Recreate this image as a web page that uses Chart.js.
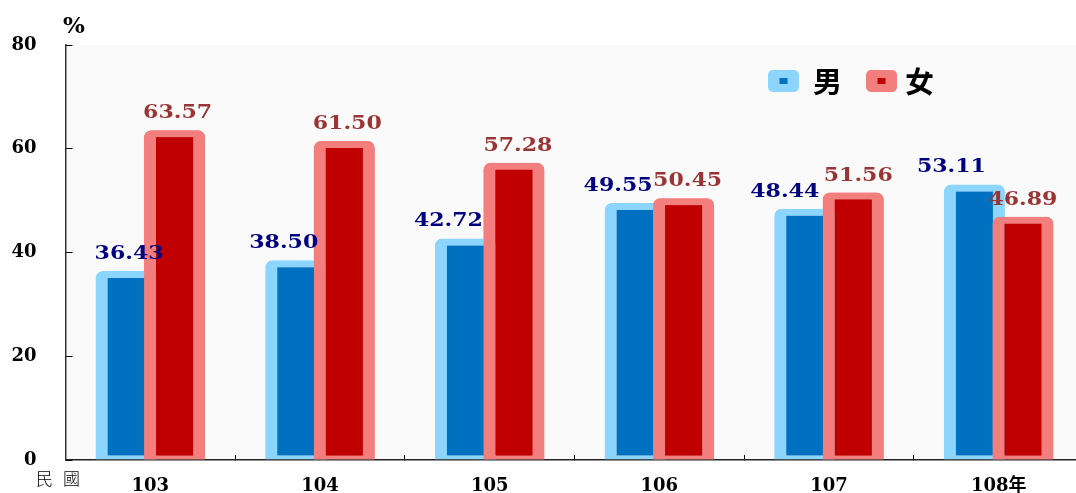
<!DOCTYPE html>
<html><head><meta charset="utf-8">
<script src="https://cdn.jsdelivr.net/npm/chart.js@4.4.0/dist/chart.umd.min.js"></script>
<style>html,body{margin:0;padding:0;background:#fff;overflow:hidden;width:1076px;height:493px}canvas{display:block}</style>
</head><body>
<canvas id="c" width="1090" height="493" style="width:1090px;height:493px"></canvas>
<script>
const categories = ['103','104','105','106','107','108年'];
const seriesNames = ['男','女'];
const maleValues = [36.43, 38.50, 42.72, 49.55, 48.44, 53.11];
const femaleValues = [63.57, 61.50, 57.28, 50.45, 51.56, 46.89];
const yTickValues = [0, 20, 40, 60, 80];
const yUnit = '%';
const xUnit = ['民', '國'];
// label horizontal nudges (px), positioning only
const maleLabelShift = [3, -12, -17, -17, -20, -23];
const femaleLabelShift = [3, 3, 4, 4, 5, 0];

const SERIF = "'DejaVu Serif', 'Noto Sans CJK TC', serif";
const MALE_LIGHT = '#8BD5FF', MALE_DARK = '#0070C0';
const FEM_LIGHT = '#F37E7E', FEM_DARK = '#C00000';

const barCommon = {
  borderWidth: {top: 7, left: 12, right: 12, bottom: 4},
  borderSkipped: false,
  borderRadius: {topLeft: 7, topRight: 7, bottomLeft: 0, bottomRight: 0},
  categoryPercentage: 0.572,
  barPercentage: 1.258
};

const bgPlugin = {
  id: 'bg',
  beforeDraw(chart) {
    const {ctx, chartArea: a} = chart;
    ctx.save();
    ctx.fillStyle = '#FAFAFA';
    ctx.fillRect(a.left, a.top, a.right - a.left, a.bottom - a.top);
    ctx.restore();
  }
};

const frontPlugin = {
  id: 'front',
  afterDatasetsDraw(chart) {
    const meta = chart.getDatasetMeta(1);
    meta.data.forEach(el => el.draw(chart.ctx));
  }
};

const labelPlugin = {
  id: 'labels',
  afterDatasetsDraw(chart) {
    const ctx = chart.ctx;
    const cfg = [
      {shift: maleLabelShift, color: '#000080'},
      {shift: femaleLabelShift, color: '#9B3535'}
    ];
    chart.data.datasets.forEach((ds, di) => {
      const meta = chart.getDatasetMeta(di);
      meta.data.forEach((el, i) => {
        ctx.save();
        ctx.translate(el.x + cfg[di].shift[i], el.y - 12);
        ctx.scale(1.16, 1);
        ctx.font = "bold 19px " + SERIF;
        ctx.fillStyle = cfg[di].color;
        ctx.textAlign = 'center';
        ctx.textBaseline = 'alphabetic';
        ctx.fillText(ds.data[i].toFixed(2), 0, 0);
        ctx.restore();
      });
    });
  }
};

const extrasPlugin = {
  id: 'extras',
  afterDraw(chart) {
    const ctx = chart.ctx;
    ctx.save();
    ctx.fillStyle = '#000';
    ctx.font = "bold 23px " + SERIF;
    ctx.textAlign = 'left';
    ctx.textBaseline = 'alphabetic';
    ctx.fillText(yUnit, 63, 33);
    ctx.font = "300 17px 'Noto Sans CJK TC'";
    ctx.textBaseline = 'middle';
    ctx.fillText(xUnit[0], 36, 478.5);
    ctx.fillText(xUnit[1], 63, 478.5);
    const items = [
      {x: 768, light: MALE_LIGHT, dark: MALE_DARK, tx: 813},
      {x: 866, light: FEM_LIGHT, dark: FEM_DARK, tx: 905}
    ];
    items.forEach((it, i) => {
      ctx.beginPath();
      ctx.roundRect(it.x, 70, 31, 22, 5);
      ctx.fillStyle = it.light;
      ctx.fill();
      ctx.fillStyle = it.dark;
      ctx.fillRect(it.x + 11.5, 78, 8, 6);
      ctx.fillStyle = '#000';
      ctx.font = "bold 29px 'Noto Sans CJK TC'";
      ctx.textAlign = 'left';
      ctx.textBaseline = 'middle';
      ctx.fillText(chart.data.datasets[i].label, it.tx, 82);
    });
    ctx.restore();
  }
};

new Chart(document.getElementById('c'), {
  type: 'bar',
  data: {
    labels: categories,
    datasets: [
      Object.assign({label: seriesNames[0], data: maleValues, backgroundColor: MALE_DARK, borderColor: MALE_LIGHT}, barCommon),
      Object.assign({label: seriesNames[1], data: femaleValues, backgroundColor: FEM_DARK, borderColor: FEM_LIGHT}, barCommon)
    ]
  },
  options: {
    responsive: false,
    animation: false,
    devicePixelRatio: 1,
    layout: {padding: {top: 45, right: 6.5, left: 0, bottom: 0}},
    plugins: {legend: {display: false}, tooltip: {enabled: false}},
    scales: {
      x: {
        offset: true,
        grid: {offset: true, drawOnChartArea: false, drawTicks: true, tickLength: -5, color: '#000', lineWidth: 1},
        border: {display: true, color: '#222', width: 1.5},
        ticks: {font: {family: SERIF, size: 18, weight: 'bold'}, color: '#000', padding: 21, maxRotation: 0, autoSkip: false},
        afterFit(s) { s.height = 33; s.paddingLeft = 0; s.paddingRight = 0; }
      },
      y: {
        min: 0, max: 80,
        afterBuildTicks(s) { s.ticks = yTickValues.map(v => ({value: v})); },
        grid: {drawOnChartArea: false, drawTicks: true, tickLength: -7, color: '#000', lineWidth: 1},
        border: {display: true, color: '#333', width: 1.5},
        ticks: {font: {family: SERIF, size: 18, weight: 'bold'}, color: '#000', padding: 36},
        afterFit(s) { s.width = 65.5; s.paddingTop = 0; s.paddingBottom = 0; }
      }
    }
  },
  plugins: [bgPlugin, frontPlugin, labelPlugin, extrasPlugin]
});
</script>
</body></html>
